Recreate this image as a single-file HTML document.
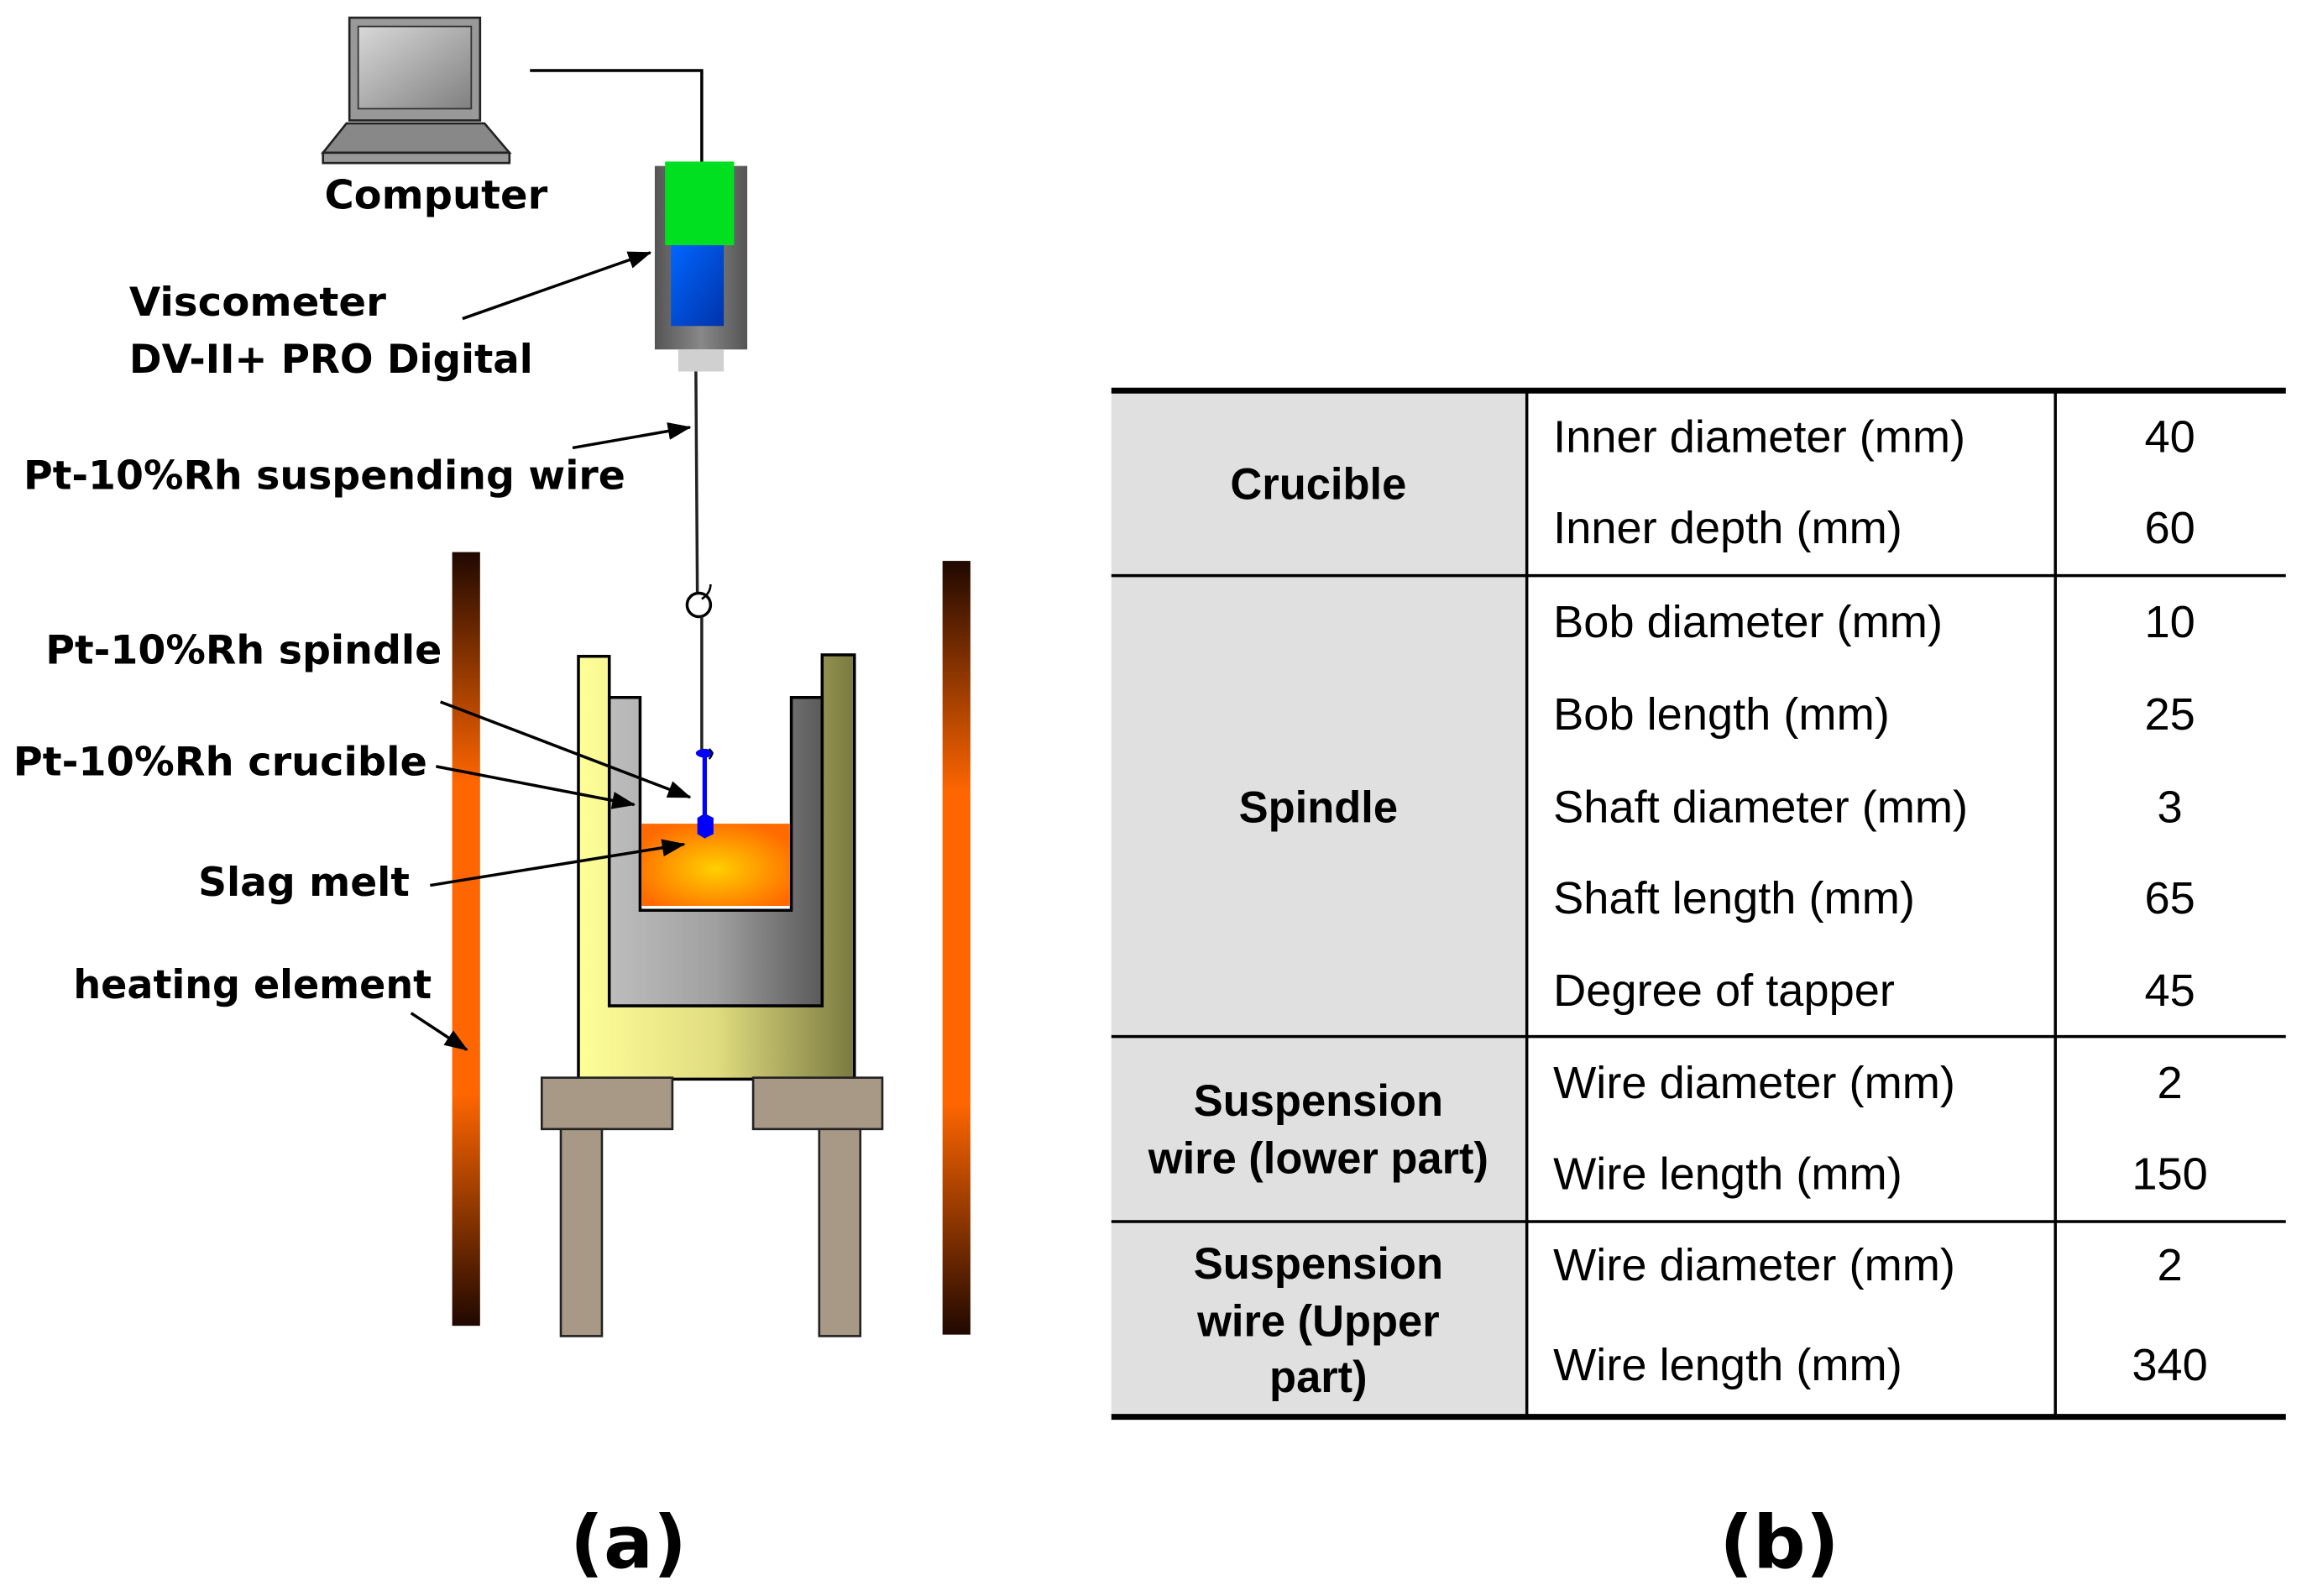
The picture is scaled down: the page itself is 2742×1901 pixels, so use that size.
<!DOCTYPE html>
<html><head><meta charset="utf-8"><style>
html,body{margin:0;padding:0;background:#fff;}
svg{display:block;}
.lb{font-family:"DejaVu Sans","Liberation Sans",sans-serif;font-weight:bold;font-size:27px;fill:#000;}
.tb{font-family:"Liberation Sans",sans-serif;font-size:31px;fill:#000;}
.tbb{font-family:"Liberation Sans",sans-serif;font-size:30px;font-weight:bold;fill:#000;}
</style></head><body>
<svg width="2742" height="1901" viewBox="0 0 1568 1087" xmlns="http://www.w3.org/2000/svg">
<defs>
<linearGradient id="heat" x1="0" y1="0" x2="0" y2="1">
<stop offset="0" stop-color="#200800"/><stop offset="0.3" stop-color="#ff6600"/><stop offset="0.7" stop-color="#ff6600"/><stop offset="1" stop-color="#200800"/></linearGradient>
<linearGradient id="yel" x1="0" y1="0" x2="1" y2="0"><stop offset="0" stop-color="#ffff99"/><stop offset="0.5" stop-color="#e0dc80"/><stop offset="1" stop-color="#7a7a40"/></linearGradient>
<linearGradient id="gry" x1="0" y1="0" x2="1" y2="0"><stop offset="0" stop-color="#bdbdbd"/><stop offset="0.5" stop-color="#a0a0a0"/><stop offset="1" stop-color="#5a5a5a"/></linearGradient>
<radialGradient id="melt" cx="0.5" cy="0.55" r="0.6"><stop offset="0" stop-color="#ffd000"/><stop offset="1" stop-color="#ff6a00"/></radialGradient>
<linearGradient id="mon" x1="0" y1="0" x2="1" y2="1"><stop offset="0" stop-color="#d8d8d8"/><stop offset="1" stop-color="#808080"/></linearGradient>
<linearGradient id="vis" x1="0" y1="0" x2="1" y2="0"><stop offset="0" stop-color="#555"/><stop offset="0.5" stop-color="#888"/><stop offset="1" stop-color="#555"/></linearGradient>
<linearGradient id="blu" x1="0" y1="0" x2="1" y2="1"><stop offset="0" stop-color="#0066ff"/><stop offset="1" stop-color="#0033aa"/></linearGradient>
<marker id="ar" markerWidth="16" markerHeight="12" refX="15" refY="6" orient="auto" markerUnits="userSpaceOnUse"><path d="M0,0 L16,6 L0,12 z" fill="#000"/></marker>
</defs>
<rect x="238" y="12" width="89" height="70" fill="#999" stroke="#222" stroke-width="1.5"/>
<rect x="244" y="18" width="77" height="56" fill="url(#mon)" stroke="#333"/>
<path d="M236,84 L330,84 L347,104 L220,104 z" fill="#888" stroke="#222" stroke-width="1.5"/>
<rect x="220" y="104" width="127" height="7" fill="#999" stroke="#222" stroke-width="1.5"/>
<text class="lb" x="297" y="142" text-anchor="middle" textLength="152" lengthAdjust="spacingAndGlyphs">Computer</text>
<polyline points="361,48 478,48 478,112" fill="none" stroke="#000" stroke-width="2"/>
<rect x="446" y="113" width="63" height="125" fill="url(#vis)"/>
<rect x="453" y="110" width="47" height="57" fill="#00e020"/>
<rect x="457" y="167" width="36" height="55" fill="url(#blu)"/>
<rect x="462" y="238" width="31" height="15" fill="#d0d0d0"/>
<text class="lb" x="88" y="215" textLength="175" lengthAdjust="spacingAndGlyphs">Viscometer</text>
<text class="lb" x="88" y="254" textLength="275" lengthAdjust="spacingAndGlyphs">DV-II+ PRO Digital</text>
<line x1="315" y1="217" x2="443" y2="172" stroke="#000" stroke-width="2" marker-end="url(#ar)"/>
<text class="lb" x="16" y="333" textLength="410" lengthAdjust="spacingAndGlyphs">Pt-10%Rh suspending wire</text>
<line x1="390" y1="305" x2="470" y2="291" stroke="#000" stroke-width="2" marker-end="url(#ar)"/>
<rect x="308" y="376" width="19" height="527" fill="url(#heat)"/>
<rect x="642" y="382" width="19" height="527" fill="url(#heat)"/>
<path d="M394,447 L415,447 L415,685 L560,685 L560,446 L582,446 L582,735 L394,735 z" fill="url(#yel)" stroke="#000" stroke-width="2"/>
<path d="M415,475 L436,475 L436,620 L539,620 L539,475 L560,475 L560,685 L415,685 z" fill="url(#gry)" stroke="#000" stroke-width="2"/>
<rect x="437" y="561" width="101" height="56" fill="url(#melt)"/>
<line x1="474" y1="253" x2="475" y2="404" stroke="#222" stroke-width="2"/>
<circle cx="476" cy="412" r="8" fill="none" stroke="#000" stroke-width="2"/>
<path d="M478,408 q6,-4 6,-10" fill="none" stroke="#000" stroke-width="1.5"/>
<line x1="478" y1="420" x2="478" y2="511" stroke="#222" stroke-width="2"/>
<ellipse cx="480" cy="513" rx="6" ry="3" fill="#0000ff"/>
<path d="M483,510 q4,3 0,7" fill="none" stroke="#000" stroke-width="1.2"/>
<line x1="480" y1="513" x2="480" y2="556" stroke="#0000ff" stroke-width="3"/>
<path d="M475,557 L480,554 L486,557 L486,568 L480,571 L475,568 z" fill="#0000ff"/>
<g fill="#a89886" stroke="#222" stroke-width="1.5">
<rect x="369" y="734" width="89" height="35"/><rect x="513" y="734" width="88" height="35"/>
<rect x="382" y="769" width="28" height="141"/><rect x="558" y="769" width="28" height="141"/>
</g>
<text class="lb" x="31" y="452" textLength="270" lengthAdjust="spacingAndGlyphs">Pt-10%Rh spindle</text>
<line x1="300" y1="478" x2="470" y2="543" stroke="#000" stroke-width="2" marker-end="url(#ar)"/>
<text class="lb" x="9" y="528" textLength="282" lengthAdjust="spacingAndGlyphs">Pt-10%Rh crucible</text>
<line x1="297" y1="522" x2="432" y2="548" stroke="#000" stroke-width="2" marker-end="url(#ar)"/>
<text class="lb" x="135" y="610" textLength="144" lengthAdjust="spacingAndGlyphs">Slag melt</text>
<line x1="293" y1="603" x2="466" y2="575" stroke="#000" stroke-width="2" marker-end="url(#ar)"/>
<text class="lb" x="50" y="680" textLength="244" lengthAdjust="spacingAndGlyphs">heating element</text>
<line x1="280" y1="690" x2="318" y2="715" stroke="#000" stroke-width="2" marker-end="url(#ar)"/>
<text class="lb" x="428" y="1068" text-anchor="middle" style="font-size:50px">(a)</text>
<text class="lb" x="1212" y="1068" text-anchor="middle" style="font-size:50px">(b)</text>
<rect x="757" y="266" width="283" height="699" fill="#e0e0e0"/>
<g stroke="#000">
<line x1="757" y1="266" x2="1557" y2="266" stroke-width="4"/>
<line x1="757" y1="965" x2="1557" y2="965" stroke-width="4"/>
<line x1="757" y1="392" x2="1557" y2="392" stroke-width="2"/>
<line x1="757" y1="706" x2="1557" y2="706" stroke-width="2"/>
<line x1="757" y1="832" x2="1557" y2="832" stroke-width="2"/>
<line x1="1040" y1="266" x2="1040" y2="965" stroke-width="2"/>
<line x1="1400" y1="266" x2="1400" y2="965" stroke-width="2"/>
</g>
<g text-anchor="middle">
<text class="tbb" x="898" y="340">Crucible</text>
<text class="tbb" x="898" y="560">Spindle</text>
<text class="tbb" x="898" y="760">Suspension</text>
<text class="tbb" x="898" y="799">wire (lower part)</text>
<text class="tbb" x="898" y="871">Suspension</text>
<text class="tbb" x="898" y="910">wire  (Upper</text>
<text class="tbb" x="898" y="948">part)</text>
</g>
<g>
<text class="tb" x="1058" y="308">Inner diameter (mm)</text>
<text class="tb" x="1058" y="370">Inner depth (mm)</text>
<text class="tb" x="1058" y="434">Bob diameter (mm)</text>
<text class="tb" x="1058" y="497">Bob length (mm)</text>
<text class="tb" x="1058" y="560">Shaft diameter (mm)</text>
<text class="tb" x="1058" y="622">Shaft length (mm)</text>
<text class="tb" x="1058" y="685">Degree of tapper</text>
<text class="tb" x="1058" y="748">Wire diameter (mm)</text>
<text class="tb" x="1058" y="810">Wire length (mm)</text>
<text class="tb" x="1058" y="872">Wire diameter (mm)</text>
<text class="tb" x="1058" y="940">Wire length (mm)</text>
</g>
<g text-anchor="middle">
<text class="tb" x="1478" y="308">40</text>
<text class="tb" x="1478" y="370">60</text>
<text class="tb" x="1478" y="434">10</text>
<text class="tb" x="1478" y="497">25</text>
<text class="tb" x="1478" y="560">3</text>
<text class="tb" x="1478" y="622">65</text>
<text class="tb" x="1478" y="685">45</text>
<text class="tb" x="1478" y="748">2</text>
<text class="tb" x="1478" y="810">150</text>
<text class="tb" x="1478" y="872">2</text>
<text class="tb" x="1478" y="940">340</text>
</g>
</svg>
</body></html>
